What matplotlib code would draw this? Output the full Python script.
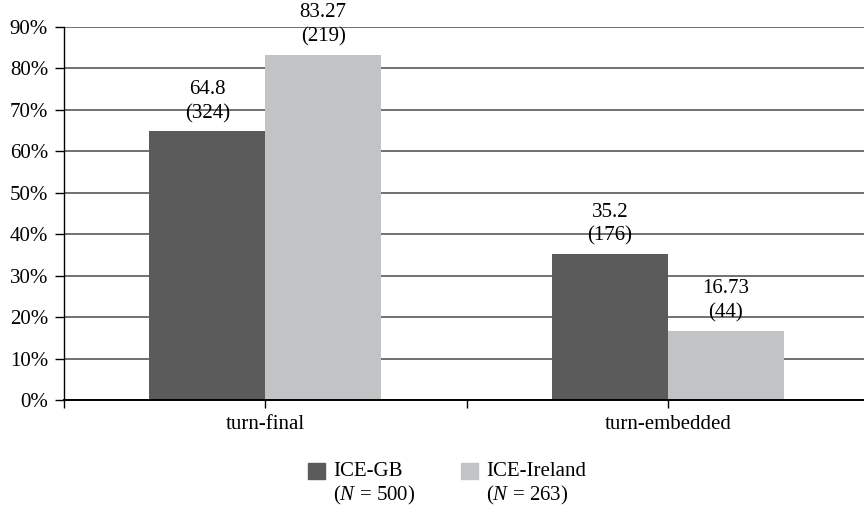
import numpy as np
import matplotlib
matplotlib.use("Agg")
import matplotlib.pyplot as plt
from matplotlib.patches import Rectangle

plt.rcParams["font.family"] = ["Liberation Serif", "DejaVu Serif"]
plt.rcParams["mathtext.fontset"] = "custom"
plt.rcParams["mathtext.it"] = "Liberation Serif:italic"
plt.rcParams["mathtext.rm"] = "Liberation Serif"
plt.rcParams["font.size"] = 15

# data
categories = ["turn-final", "turn-embedded"]
series_names = ["ICE-GB", "ICE-Ireland"]
series_n = [500, 263]
pct_gb = [64.8, 35.2]
pct_ie = [83.27, 16.73]
count_gb = [324, 176]
count_ie = [219, 44]
y_ticks = [0, 10, 20, 30, 40, 50, 60, 70, 80, 90]

colors = ["#5b5b5c", "#c2c3c5"]
width = 0.288

fig = plt.figure(figsize=(8.64, 5.05), dpi=100)
ax = fig.add_axes([64 / 864, 105 / 505, 805 / 864, 373 / 505])

x = np.arange(len(categories))
series = [(pct_gb, count_gb), (pct_ie, count_ie)]
for i, (vals, counts) in enumerate(series):
    pos = x + (i - 0.5) * width
    ax.bar(pos, vals, width, color=colors[i], zorder=3)
    for px, v, c in zip(pos, vals, counts):
        ax.annotate(f"{v:g}\n({c})", (px, v), xytext=(0, 6),
                    textcoords="offset points", ha="center", va="bottom",
                    linespacing=1.35, zorder=4)

ax.set_xlim(-0.5, 1.5)
ax.set_ylim(0, 90)
ax.set_yticks(y_ticks)
ax.set_yticklabels([f"{t}%" for t in y_ticks])
ax.set_xticks(x)
ax.set_xticklabels(categories)
ax.set_xticks([-0.5, 0.5, 1.5], minor=True)
ax.tick_params(axis="y", length=6.5, width=1, pad=5, direction="out")
ax.tick_params(axis="x", which="both", length=6, width=1, pad=5, direction="out")

ax.grid(axis="y", color="#4a4a4a", lw=1.1, zorder=1)
for s in ["top", "right"]:
    ax.spines[s].set_visible(False)
ax.spines["left"].set_linewidth(1)
ax.spines["bottom"].set_linewidth(1.4)
ax.spines["bottom"].set_zorder(5)

# legend: square beside the first line, sample size on a second line
for i, (name, n) in enumerate(zip(series_names, series_n)):
    x0 = (308 + 153 * i) / 864
    fig.add_artist(Rectangle((x0, 1 - 479 / 505), 17 / 864, 16 / 505,
                             transform=fig.transFigure, color=colors[i]))
    fig.text(x0 + 25 / 864, 1 - 471 / 505, name, va="center", ha="left")
    fig.text(x0 + 25 / 864, 1 - 495 / 505, f"($N$ = {n})", va="center", ha="left")

fig.savefig("out.png", dpi=100)
